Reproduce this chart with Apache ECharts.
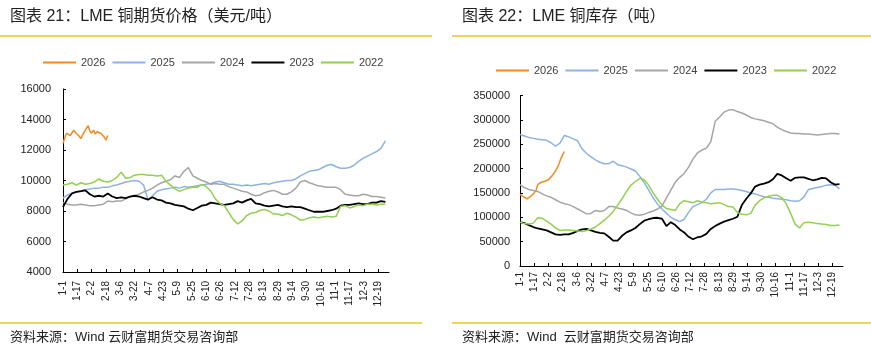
<!DOCTYPE html>
<html>
<head>
<meta charset="utf-8">
<script src="https://cdn.jsdelivr.net/npm/echarts@6/dist/echarts.min.js"></script>
<style>
  body { margin: 0; background: #fff; }
  #wrap { position: relative; width: 871px; height: 353px; overflow: hidden;
          font-family: 'Liberation Sans', 'Noto Sans CJK SC', sans-serif; color: #222; }
  #chart { position: absolute; left: 0; top: 0; width: 871px; height: 353px; }
  .title { position: absolute; top: 6px; font-size: 16px; line-height: 20px; white-space: pre; }
  .rule { position: absolute; height: 2px; background: #F0D35C; }
  .source { position: absolute; top: 329px; font-size: 13px; line-height: 16px; white-space: pre; }
</style>
</head>
<body>
<div id="wrap">
  <div id="chart"></div>
  <div class="title" style="left:10px">图表 21：LME 铜期货价格（美元/吨）</div>
  <div class="title" style="left:462px">图表 22：LME 铜库存（吨）</div>
  <div class="rule" style="left:0; width:432px; top:35px"></div>
  <div class="rule" style="left:452px; width:419px; top:35px"></div>
  <div class="rule" style="left:0; width:422px; top:322px"></div>
  <div class="rule" style="left:452px; width:419px; top:322px"></div>
  <div class="source" style="left:10px">资料来源：Wind 云财富期货交易咨询部</div>
  <div class="source" style="left:462px">资料来源：Wind  云财富期货交易咨询部</div>
</div>
<script>
// x axis: day of year (0 = 1-1), tick every 16 days
const dayLabels = ['1-1', '1-17', '2-2', '2-18', '3-6', '3-22', '4-7', '4-23', '5-9', '5-25',
  '6-10', '6-26', '7-12', '7-28', '8-13', '8-29', '9-14', '9-30', '10-16', '11-1',
  '11-17', '12-3', '12-19'];
const years = ['2026', '2025', '2024', '2023', '2022'];

// LME copper price (USD/t); 2026 every 2 days, others every 5 days
const price2026 = [12450, 12800, 13100, 13200, 12950, 13050, 13300, 13150, 13050, 12900, 12750, 13000, 13200,
  13300, 13600, 13250, 13100, 13300, 13050, 13200, 13150, 13100, 13000, 12850, 12650, 12950];
const price2025 = [8850, 9050, 9150, 9250, 9300, 9400, 9450, 9500, 9500, 9550,
  9550, 9650, 9700, 9800, 9900, 9950, 10000, 9950, 9700, 8700,
  9000, 9300, 9400, 9450, 9500, 9550, 9500, 9600, 9550, 9600,
  9650, 9700, 9750, 9800, 9900, 9950, 9850, 9750, 9750, 9700,
  9650, 9700, 9650, 9700, 9750, 9800, 9750, 9850, 9900, 9950,
  10000, 10000, 10100, 10300, 10450, 10600, 10650, 10700, 10850, 11000,
  11050, 10900, 10800, 10800, 10850, 11000, 11250, 11450, 11600, 11750,
  11900, 12100, 12600];
const price2024 = [8550, 8450, 8400, 8400, 8450, 8400, 8350, 8350, 8400, 8450,
  8650, 8600, 8650, 8650, 8800, 8950, 9000, 9100, 9250, 9350,
  9500, 9700, 9850, 9950, 10050, 10300, 10200, 10600, 10850, 10300,
  10150, 10000, 9900, 9750, 9800, 9750, 9750, 9600, 9500, 9400,
  9300, 9250, 9100, 9000, 9050, 9200, 9300, 9350, 9250, 9100,
  9100, 9250, 9500, 9900, 10000, 9850, 9750, 9650, 9600, 9550,
  9550, 9550, 9400, 9100, 9050, 9000, 9000, 9100, 9050, 8950,
  8950, 8900, 8850];
const price2023 = [8250, 8800, 9150, 9250, 9300, 9350, 9100, 8950, 9000, 8950,
  9150, 8950, 8850, 8900, 8850, 8950, 9000, 8950, 8850, 8750,
  8900, 8750, 8700, 8550, 8500, 8400, 8350, 8300, 8150, 8050,
  8200, 8350, 8400, 8550, 8500, 8450, 8400, 8450, 8500, 8650,
  8550, 8700, 8800, 8500, 8450, 8350, 8300, 8350, 8400, 8300,
  8250, 8300, 8250, 8250, 8150, 8050, 7950, 7950, 7950, 8000,
  8050, 8150, 8350, 8400, 8400, 8450, 8500, 8450, 8450, 8550,
  8550, 8650, 8600];
const price2022 = [9700, 9750, 9850, 9700, 9850, 9750, 9800, 9900, 10100, 9950,
  9900, 10000, 10200, 10550, 10150, 10200, 10350, 10400, 10400, 10350,
  10350, 10300, 10350, 9950, 9700, 9450, 9300, 9400, 9500, 9550,
  9550, 9750, 9600, 9300, 8800, 8500, 8350, 7900, 7450, 7150,
  7350, 7700, 7850, 7900, 8050, 8100, 8000, 7800, 7800, 7700,
  7850, 7750, 7600, 7400, 7450, 7550, 7600, 7550, 7600, 7650,
  7600, 7650, 8300, 8350, 8200, 8300, 8400, 8350, 8450, 8450,
  8400, 8450, 8450];

// LME copper stocks (t); 2026 every 2 days, others every 5 days
const stock2026 = [147000, 144000, 142000, 139000, 138000, 140000, 143000, 145000, 150000, 155000,
  167000, 170000, 172000, 174000, 174000, 176000, 177000, 181000, 185000, 188000,
  195000, 202000, 210000, 220000, 228000, 235000];
const stock2025 = [270000, 267000, 264000, 262000, 260000, 259000, 258000, 253000, 246000, 252000,
  268000, 265000, 261000, 257000, 240000, 231000, 224000, 218000, 213000, 210000,
  210000, 215000, 208000, 206000, 203000, 199000, 195000, 184000, 171000, 156000,
  140000, 127000, 117000, 108000, 100000, 95000, 91000, 96000, 110000, 122000,
  126000, 130000, 137000, 150000, 157000, 157000, 157000, 158000, 158000, 157000,
  155000, 153000, 150000, 148000, 145000, 142000, 141000, 139000, 138000, 137000,
  136000, 134000, 133000, 134000, 142000, 157000, 159000, 161000, 163000, 166000,
  167000, 166000, 158000];
const stock2024 = [167000, 161000, 157000, 155000, 153000, 148000, 144000, 141000, 136000, 131000,
  128000, 126000, 122000, 117000, 112000, 107000, 108000, 114000, 112000, 114000,
  122000, 122000, 119000, 117000, 114000, 109000, 105000, 104000, 106000, 110000,
  113000, 117000, 123000, 140000, 156000, 172000, 182000, 190000, 203000, 220000,
  232000, 238000, 242000, 255000, 297000, 306000, 316000, 320000, 321000, 317000,
  314000, 310000, 305000, 302000, 300000, 298000, 295000, 292000, 285000, 280000,
  276000, 273000, 272000, 272000, 271000, 271000, 270000, 269000, 270000, 271000,
  272000, 272000, 271000];
const stock2023 = [90000, 88000, 84000, 80000, 77000, 75000, 73000, 69000, 65000, 64000,
  65000, 65000, 68000, 72000, 75000, 76000, 73000, 70000, 68000, 67000,
  60000, 52000, 52000, 62000, 69000, 73000, 78000, 86000, 93000, 96000,
  98500, 99000, 97000, 82000, 90000, 84000, 75000, 69000, 60000, 55000,
  59000, 61000, 66000, 76000, 82000, 87000, 91000, 94000, 97000, 101000,
  125000, 138000, 149000, 163000, 167000, 169000, 172000, 178000, 189000, 186000,
  180000, 175000, 181000, 182000, 182000, 179000, 176000, 178000, 181000, 180000,
  172000, 167000, 168000];
const stock2022 = [90000, 87000, 86000, 88000, 99000, 98000, 92000, 86000, 78000, 73000,
  74000, 74000, 73000, 72000, 71000, 73000, 76000, 80000, 87000, 94000,
  102000, 112000, 125000, 138000, 153000, 166000, 173000, 180000, 177000, 166000,
  150000, 137000, 125000, 118000, 116000, 114000, 128000, 134000, 132000, 130000,
  134000, 131000, 130000, 128000, 129000, 130000, 126000, 122000, 121000, 110000,
  106000, 105000, 108000, 125000, 134000, 140000, 143000, 145000, 145000, 140000,
  128000, 108000, 86000, 78000, 89000, 90000, 89000, 87000, 86000, 85000,
  83000, 83000, 84000];

const colors = ['#F28A1E', '#8DB3E2', '#A5A5A5', '#000000', '#92D050'];

const toPairs = (vals, step) => vals.map((v, i) => [i * step, v]);

const chart = echarts.init(document.getElementById('chart'));

function dayAxis(gi, margin) {
  return {
    type: 'value', gridIndex: gi, min: 0, max: 364, interval: 16,
    axisLine: { lineStyle: { color: '#000', width: 1 } },
    axisTick: { inside: true, length: 3, lineStyle: { color: '#000' } },
    axisLabel: {
      rotate: 90, fontSize: 10, color: '#222', margin: margin, showMaxLabel: false,
      formatter: v => dayLabels[v / 16] || ''
    },
    splitLine: { show: false }
  };
}

function valAxis(gi, min, max, step, margin) {
  return {
    type: 'value', gridIndex: gi, min: min, max: max, interval: step,
    axisLine: { show: true, lineStyle: { color: '#000', width: 1 } },
    axisTick: { show: true, inside: true, length: 3, lineStyle: { color: '#000' } },
    axisLabel: { fontSize: 11, color: '#222', margin: margin, formatter: v => String(v) },
    splitLine: { show: false }
  };
}

function makeSeries(gi, list) {
  return list.map((d, i) => ({
    name: years[i], type: 'line', xAxisIndex: gi, yAxisIndex: gi,
    data: toPairs(d[0], d[1]), showSymbol: false,
    lineStyle: { color: colors[i], width: i === 3 ? 1.8 : 1.5 },
    itemStyle: { color: colors[i] }
  }));
}

const legendBase = {
  data: years, icon: 'rect', itemWidth: 33, itemHeight: 2, itemGap: 7,
  textStyle: { fontSize: 11, color: '#404040' }
};

chart.setOption({
  animation: false,
  textStyle: { fontFamily: 'Liberation Sans' },
  legend: [
    Object.assign({ left: 38, top: 52 }, legendBase),
    Object.assign({ left: 491, top: 60 }, legendBase)
  ],
  grid: [
    { left: 63, top: 89, width: 326, height: 183 },
    { left: 520, top: 95.5, width: 323, height: 170.5 }
  ],
  xAxis: [dayAxis(0, 9), dayAxis(1, 6)],
  yAxis: [valAxis(0, 4000, 16000, 2000, 12), valAxis(1, 0, 350000, 50000, 10)],
  series: makeSeries(0, [
    [price2026, 2], [price2025, 5], [price2024, 5], [price2023, 5], [price2022, 5]
  ]).concat(makeSeries(1, [
    [stock2026, 2], [stock2025, 5], [stock2024, 5], [stock2023, 5], [stock2022, 5]
  ]))
});
</script>
</body>
</html>
